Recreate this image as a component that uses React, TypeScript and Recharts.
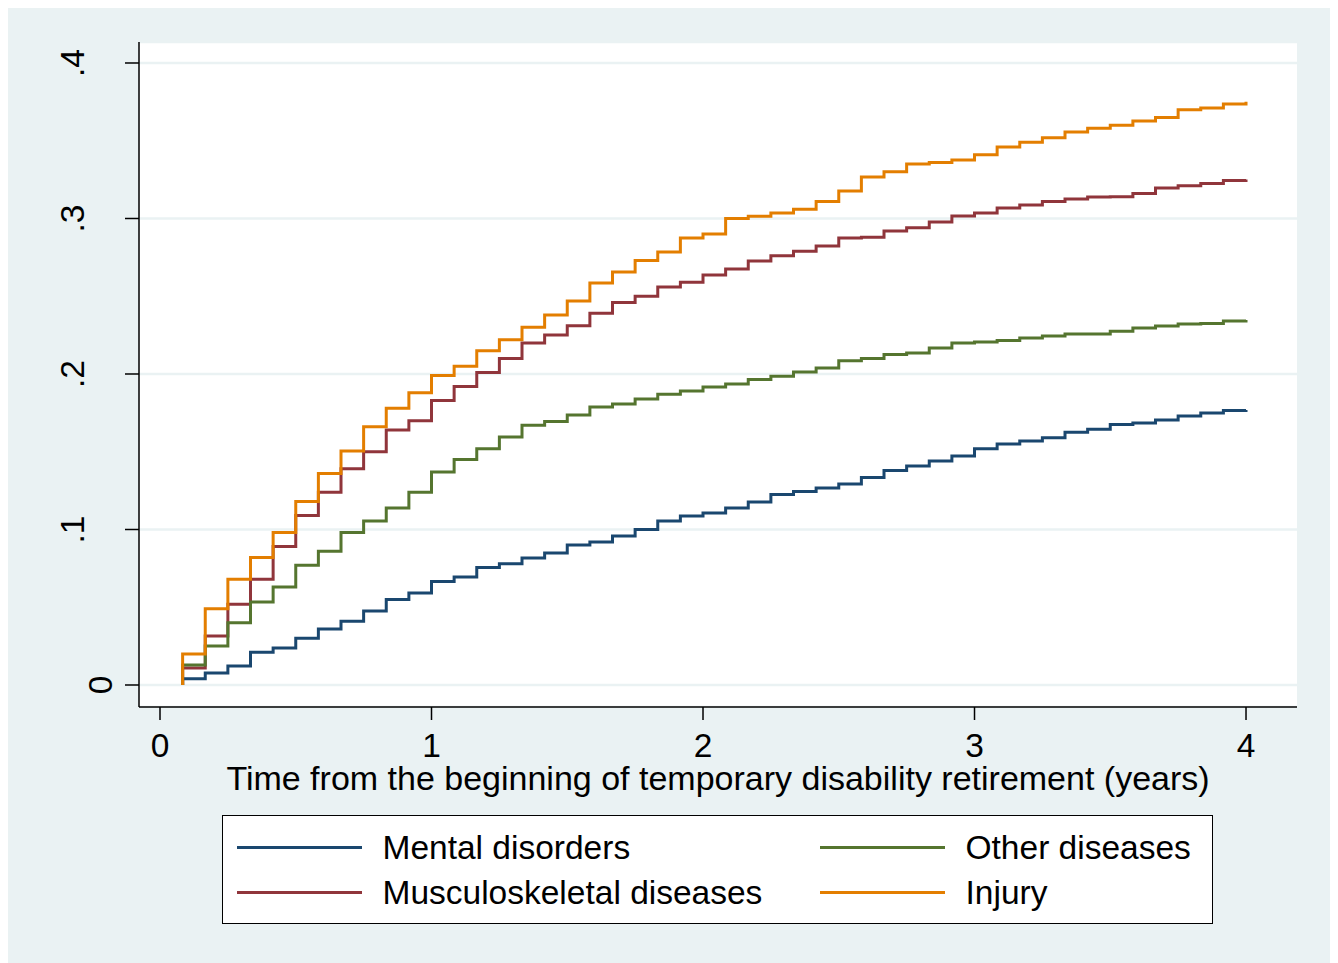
import React from "react";
import { CartesianGrid, Line, LineChart, XAxis, YAxis } from "recharts";

// month of each step (first entry repeated so curves start at 0 and jump)
const months = [
  1, 1, 2, 3, 4, 5, 6, 7, 8, 9, 10, 11, 12, 13, 14, 15, 16, 17, 18, 19, 20, 21,
  22, 23, 24, 25, 26, 27, 28, 29, 30, 31, 32, 33, 34, 35, 36, 37, 38, 39, 40,
  41, 42, 43, 44, 45, 46, 47, 48,
];

const mental = [
  0, 0.004, 0.0077, 0.0122, 0.021, 0.0238, 0.03, 0.036, 0.041, 0.0476, 0.055,
  0.0592, 0.0665, 0.0695, 0.0755, 0.078, 0.0817, 0.0849, 0.09, 0.092, 0.0958,
  0.1, 0.1055, 0.1087, 0.1106, 0.1138, 0.1177, 0.1225, 0.1245, 0.1267, 0.1293,
  0.1335, 0.138, 0.1408, 0.144, 0.1473, 0.152, 0.155, 0.1569, 0.159, 0.1625,
  0.1645, 0.1675, 0.1685, 0.1704, 0.173, 0.1749, 0.1765, 0.1768,
];

const musculo = [
  0, 0.011, 0.0315, 0.052, 0.068, 0.089, 0.109, 0.124, 0.139, 0.15, 0.164,
  0.17, 0.183, 0.192, 0.201, 0.21, 0.22, 0.225, 0.231, 0.239, 0.246, 0.25,
  0.256, 0.259, 0.2637, 0.2675, 0.2727, 0.276, 0.279, 0.2823, 0.2875, 0.288,
  0.292, 0.294, 0.2977, 0.3016, 0.3035, 0.3067, 0.3087, 0.311, 0.3125, 0.3138,
  0.314, 0.316, 0.3196, 0.321, 0.3225, 0.3245, 0.325,
];

const other = [
  0, 0.0129, 0.025, 0.04, 0.0534, 0.063, 0.077, 0.086, 0.098, 0.1055, 0.1138,
  0.124, 0.137, 0.145, 0.152, 0.1595, 0.167, 0.1695, 0.1736, 0.1788, 0.1807,
  0.184, 0.187, 0.189, 0.1916, 0.1936, 0.1965, 0.1985, 0.2013, 0.2039, 0.2085,
  0.21, 0.2125, 0.2135, 0.2167, 0.22, 0.2205, 0.2215, 0.2231, 0.2244, 0.2257,
  0.2257, 0.2275, 0.2296, 0.2309, 0.2322, 0.2325, 0.2341, 0.2347,
];

const injury = [
  0, 0.02, 0.049, 0.068, 0.082, 0.098, 0.118, 0.136, 0.1505, 0.166, 0.178,
  0.188, 0.199, 0.205, 0.215, 0.222, 0.23, 0.238, 0.247, 0.2585, 0.2656, 0.273,
  0.2785, 0.2875, 0.29, 0.3, 0.3015, 0.3035, 0.306, 0.311, 0.3177, 0.3267, 0.33,
  0.335, 0.336, 0.3376, 0.341, 0.346, 0.349, 0.352, 0.3556, 0.358, 0.36,
  0.3627, 0.365, 0.37, 0.371, 0.3736, 0.375,
];

const xTicks = [0, 1, 2, 3, 4];
const yTicks = [0, 0.1, 0.2, 0.3, 0.4];

const series = [
  { key: "mental", name: "Mental disorders", color: "#1a476f" },
  { key: "musculo", name: "Musculoskeletal diseases", color: "#90353b" },
  { key: "other", name: "Other diseases", color: "#55752f" },
  { key: "injury", name: "Injury", color: "#e37e00" },
];

const data = months.map((m, i) => ({
  t: m / 12,
  mental: mental[i],
  musculo: musculo[i],
  other: other[i],
  injury: injury[i],
}));

if (typeof document !== "undefined") {
  document.documentElement.style.overflow = "hidden";
}

const FONT = "'Liberation Sans', Arial, Helvetica, sans-serif";
const W = 1330;
const H = 955;
const PLOT_BOTTOM = 699;
const TICK_FONT = 33.5;

const fmtY = (v: number) => (v === 0 ? "0" : `.${Math.round(v * 10)}`);

function YTick(props: any) {
  const { y, payload } = props;
  // stata puts the "0" label a bit closer to the axis
  const bx = payload.value === 0 ? 104 : 76;
  return (
    <text
      transform={`translate(${bx}, ${y}) rotate(-90)`}
      textAnchor="middle"
      fontSize={TICK_FONT}
      fontFamily={FONT}
      fill="#000"
    >
      {fmtY(payload.value)}
    </text>
  );
}

function XTick(props: any) {
  const { x, payload } = props;
  return (
    <text
      x={x}
      y={PLOT_BOTTOM + 50}
      textAnchor="middle"
      fontSize={TICK_FONT}
      fontFamily={FONT}
      fill="#000"
    >
      {payload.value}
    </text>
  );
}

function LegendItem({ name, color, left, top }: any) {
  return (
    <div style={{ position: "absolute", left, top, height: 0 }}>
      <div
        style={{
          position: "absolute",
          left: 0,
          top: -1.5,
          width: 125,
          height: 3,
          background: color,
        }}
      />
      <div
        style={{
          position: "absolute",
          left: 146,
          top: -19,
          fontSize: 33.5,
          lineHeight: "38px",
          whiteSpace: "nowrap",
          color: "#000",
        }}
      >
        {name}
      </div>
    </div>
  );
}

export default function App() {
  const pos = [
    { left: 15, top: 33 },
    { left: 15, top: 78 },
    { left: 598, top: 33 },
    { left: 598, top: 78 },
  ];
  return (
    <div
      style={{
        position: "relative",
        width: W,
        height: H,
        background: "#eaf2f3",
        fontFamily: FONT,
      }}
    >
      <LineChart
        width={W}
        height={H}
        data={data}
        margin={{ top: 34, right: 41, left: 0, bottom: 196 }}
      >
        <CartesianGrid
          vertical={false}
          stroke="#eaf2f3"
          strokeWidth={2.5}
          fill="#ffffff"
          fillOpacity={1}
        />
        <XAxis
          dataKey="t"
          type="number"
          domain={[-0.07735, 4.1878]}
          ticks={xTicks}
          allowDataOverflow
          height={60}
          tickSize={13}
          axisLine={{ stroke: "#000", strokeWidth: 1.5 }}
          tickLine={{ stroke: "#000", strokeWidth: 1.5 }}
          tick={<XTick />}
          interval={0}
        />
        <YAxis
          type="number"
          domain={[-0.01415, 0.4135]}
          ticks={yTicks}
          allowDataOverflow
          width={131}
          tickSize={14}
          axisLine={{ stroke: "#000", strokeWidth: 1.5 }}
          tickLine={{ stroke: "#000", strokeWidth: 1.5 }}
          tick={<YTick />}
          interval={0}
        />
        {series.map((s) => (
          <Line
            key={s.key}
            type="stepAfter"
            dataKey={s.key}
            name={s.name}
            stroke={s.color}
            strokeWidth={3}
            dot={false}
            activeDot={false}
            isAnimationActive={false}
          />
        ))}
      </LineChart>

      <div
        style={{
          position: "absolute",
          left: 131,
          width: 1158,
          top: 758,
          textAlign: "center",
          fontSize: 34,
          lineHeight: "24px",
          whiteSpace: "nowrap",
          color: "#000",
        }}
      >
        Time from the beginning of temporary disability retirement (years)
      </div>

      <div
        style={{
          position: "absolute",
          left: 214,
          top: 807,
          width: 991,
          height: 109,
          boxSizing: "border-box",
          border: "1.5px solid #000",
          background: "#fff",
        }}
      >
        {series.map((s, i) => (
          <LegendItem
            key={s.key}
            name={s.name}
            color={s.color}
            left={pos[i].left - 1.5}
            top={pos[i].top - 1.5}
          />
        ))}
      </div>
    </div>
  );
}
